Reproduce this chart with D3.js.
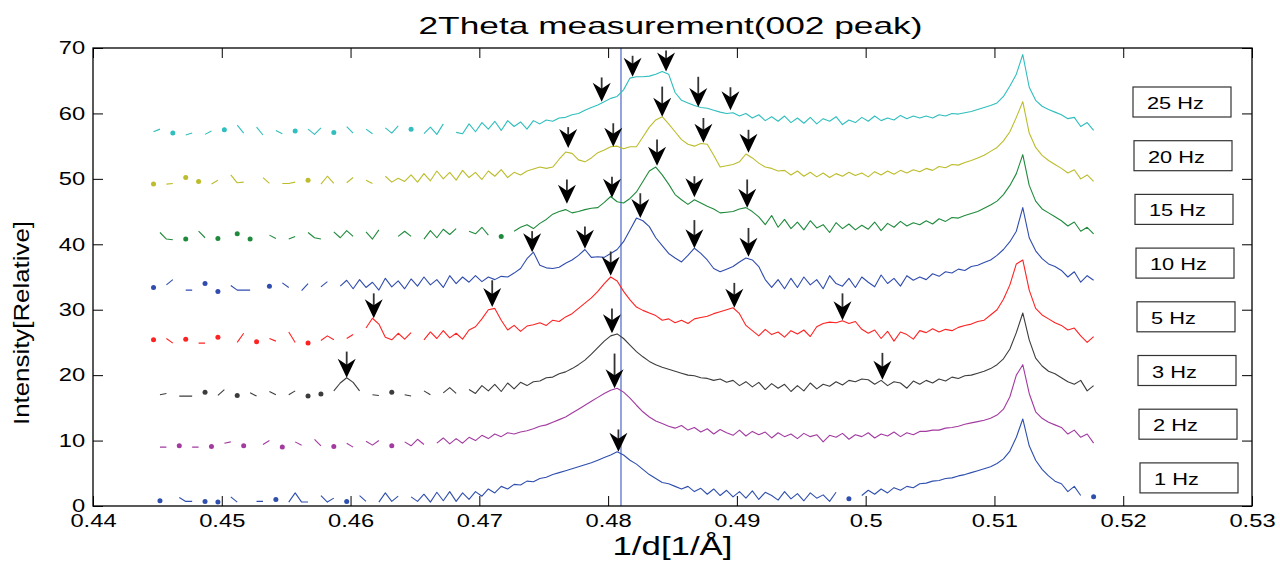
<!DOCTYPE html>
<html>
<head>
<meta charset="utf-8">
<script src="https://cdn.jsdelivr.net/npm/d3@7"></script>
<style>
  body { margin: 0; background: #fff; }
  svg { display: block; font-family: "Liberation Sans", Arial, sans-serif; }
</style>
</head>
<body>
<div id="chart"></div>
<script>
// ---- data ----
// every trace is sampled on the same 1/d grid, null = no point drawn
const xStart = 0.4447;
const xStep = 0.0005;

const freqLabels = ['1 Hz', '2 Hz', '3 Hz', '5 Hz', '10 Hz', '15 Hz', '20 Hz', '25 Hz'];

const hz1 = [
  null,0.8,null,null,1.3,0.7,0.7,null,0.7,null,
  0.6,null,1.4,0.6,null,null,0.7,0.7,null,1.0,
  null,0.6,2.0,0.6,0.6,null,1.6,0.6,1.2,null,
  0.7,null,1.6,0.7,null,0.6,2.0,0.7,1.5,null,
  1.4,0.7,1.8,0.6,2.1,0.8,2.2,0.7,2.0,1.0,
  2.2,1.5,2.6,2.0,3.0,2.6,3.3,3.2,3.8,3.7,
  4.2,4.4,4.8,5.1,5.4,5.7,6.0,6.3,6.6,7.0,
  7.4,7.8,8.3,7.8,7.0,6.4,5.6,4.8,4.2,3.6,
  3.4,3.0,2.6,3.0,2.2,2.7,1.8,2.6,1.6,2.4,
  1.4,2.2,1.2,2.3,1.0,2.1,1.6,0.9,2.2,1.1,
  1.9,0.8,2.0,1.2,1.7,0.7,2.1,null,1.1,null,
  1.6,2.4,1.8,2.6,2.0,2.8,2.4,3.0,2.8,3.4,
  3.5,3.8,3.9,4.2,4.3,4.6,4.8,5.1,5.4,5.7,
  6.0,6.5,7.2,8.4,10.5,13.3,9.2,7.0,5.6,4.6,
  3.8,3.4,2.2,3.0,1.6,null,1.4
];
const hz2 = [
  null,9.0,9.0,null,9.2,null,9.0,9.0,null,9.1,
  null,9.6,9.8,null,9.2,null,null,9.4,10.0,null,
  9.0,null,9.8,9.3,null,10.2,9.2,null,9.1,null,
  9.6,9.0,null,9.9,9.3,10.0,null,9.2,null,9.8,
  9.2,10.2,9.4,null,9.6,10.4,9.5,10.3,9.6,10.5,
  10.0,10.8,10.3,11.0,10.6,11.2,11.0,11.3,11.5,11.8,
  12.2,12.4,12.8,13.2,13.6,14.2,14.8,15.4,16.0,16.6,
  17.2,17.7,18.0,17.4,16.5,15.4,14.4,13.6,13.0,12.6,
  12.2,11.9,12.3,11.6,12.0,11.3,11.8,11.0,11.7,11.2,
  10.8,11.6,10.7,11.4,10.9,11.3,10.4,11.2,10.6,11.0,
  10.3,11.1,10.6,10.9,9.8,10.8,10.5,11.1,10.2,10.9,
  10.6,11.2,10.4,11.0,10.7,11.3,10.6,11.2,10.9,11.4,
  11.4,11.6,11.6,11.9,12.0,12.2,12.5,12.7,12.9,13.1,
  13.4,13.9,14.8,16.7,20.0,21.6,17.2,14.4,13.4,12.8,
  12.4,12.0,11.0,11.6,10.5,11.0,9.6
];
const hz3 = [
  null,17.0,17.2,null,16.8,16.8,16.8,null,17.4,null,
  16.9,17.8,null,16.9,null,17.3,16.8,null,17.5,17.0,
  null,17.0,17.6,null,16.8,null,17.1,null,17.6,18.8,
  19.6,18.9,17.6,null,17.0,16.9,null,17.4,null,17.0,
  16.8,null,17.6,17.0,null,17.3,18.1,17.2,null,17.8,
  17.2,18.4,17.6,18.6,17.5,18.8,17.9,18.9,18.4,19.0,
  19.1,19.6,19.7,20.2,20.5,21.0,21.6,22.3,23.2,24.2,
  25.2,26.0,26.3,25.6,24.6,23.6,22.8,22.1,21.6,21.2,
  20.9,20.6,20.3,20.0,19.9,19.6,19.5,19.2,19.4,18.9,
  19.2,18.4,19.0,18.2,18.9,17.8,18.7,18.0,18.6,17.5,
  18.4,17.6,18.8,17.9,18.6,18.3,19.0,18.5,19.2,19.0,
  19.4,19.3,18.6,19.2,18.4,19.0,18.8,18.0,19.1,18.6,
  19.2,18.8,19.4,19.1,19.7,19.5,19.9,20.0,20.3,20.6,
  21.0,21.6,22.5,24.0,26.5,29.5,25.4,22.6,21.4,20.6,
  20.2,19.6,19.0,18.6,19.2,17.6,18.4
];
const hz5 = [
  25.4,null,25.6,24.9,null,25.5,null,24.9,24.9,null,
  25.8,null,null,25.0,26.4,null,25.1,null,25.6,25.2,
  null,26.6,25.0,null,24.9,null,25.3,26.0,25.4,null,
  25.6,26.2,null,27.2,28.7,27.8,25.8,25.4,26.4,25.5,
  26.5,null,25.4,26.6,25.6,26.8,25.7,26.4,25.5,26.9,
  27.4,28.6,30.0,30.2,28.4,26.9,27.6,26.7,27.5,27.7,
  28.0,27.6,28.4,28.2,28.9,29.4,30.2,31.0,31.8,32.8,
  34.0,35.0,34.4,32.8,31.5,30.4,29.9,29.5,29.1,28.4,
  28.6,28.0,28.4,27.9,28.6,28.8,29.0,29.4,29.7,30.0,
  30.3,29.4,27.6,26.8,26.0,27.0,26.2,26.6,25.8,26.8,
  26.3,26.9,25.9,27.4,27.9,28.1,28.0,28.3,27.9,28.2,
  27.0,26.4,26.9,25.6,26.7,25.2,26.6,26.2,25.5,26.8,
  26.5,27.1,26.6,27.0,26.8,27.3,27.6,27.8,28.2,28.4,
  29.2,30.0,31.6,33.8,37.0,37.6,33.0,30.2,29.2,28.6,
  28.0,27.6,26.9,27.2,26.0,25.0,25.9
];
const hz10 = [
  33.4,null,33.8,34.6,null,33.0,33.0,null,34.0,null,
  32.8,null,33.7,33.0,33.0,33.0,null,null,33.6,null,
  34.1,33.4,null,32.9,34.0,null,33.5,34.3,null,33.6,
  34.5,33.2,34.6,33.4,34.2,33.0,34.8,33.5,34.4,33.2,
  34.7,33.6,35.0,33.8,34.6,33.4,35.2,34.0,35.0,34.2,
  35.2,34.3,35.0,34.6,35.1,35.0,35.6,36.3,37.8,38.8,
  36.8,36.4,36.3,36.5,37.1,37.6,38.3,39.2,38.0,38.1,
  38.0,38.6,39.2,40.4,42.2,44.0,43.6,42.7,41.0,39.8,
  38.6,37.9,37.3,38.3,39.4,38.6,37.6,36.3,35.8,36.2,
  36.6,37.3,37.9,37.6,36.6,34.6,33.4,34.6,33.2,34.8,
  33.4,35.0,33.8,34.6,33.2,35.2,34.0,33.6,34.8,33.4,
  35.0,34.2,33.5,35.3,34.0,34.8,33.6,35.2,34.5,35.0,
  34.6,35.5,35.1,35.8,35.6,36.2,36.0,36.6,36.8,37.2,
  37.6,38.3,39.2,40.4,42.0,45.6,41.0,39.0,37.8,37.0,
  36.6,36.0,35.0,35.8,34.2,35.2,34.5
];
const hz15 = [
  null,41.8,40.8,40.7,null,40.8,null,42.0,41.0,null,
  40.9,null,null,41.6,null,40.8,null,null,41.4,40.9,
  null,40.8,41.2,null,41.8,41.0,40.8,null,41.9,41.0,
  42.1,41.2,null,41.9,40.8,42.2,null,null,41.2,42.0,
  41.2,null,40.8,42.1,41.0,42.3,41.5,42.4,null,42.0,
  41.6,42.6,41.4,null,41.2,null,42.0,42.6,43.0,42.4,
  43.2,43.8,44.6,45.0,45.3,44.8,45.0,45.3,45.5,45.6,
  46.4,47.3,46.5,46.3,47.0,48.0,49.6,51.2,51.8,50.6,
  49.2,47.6,46.8,46.1,46.8,46.3,45.8,45.4,44.8,44.9,
  45.0,45.4,45.6,45.0,44.2,43.0,44.4,42.6,43.8,42.4,
  43.4,42.2,43.6,42.5,43.0,41.8,43.3,42.4,43.1,42.2,
  42.9,42.3,43.4,42.1,43.2,42.6,43.5,42.8,43.3,43.0,
  43.6,43.1,43.9,43.5,44.1,44.0,44.4,44.7,45.0,45.5,
  46.0,46.6,47.6,49.0,50.8,53.7,49.0,46.6,45.4,44.8,
  44.2,43.6,42.8,43.4,42.0,42.6,41.6
];
const hz20 = [
  49.2,null,49.2,49.3,null,50.2,null,49.6,null,49.2,
  49.8,null,50.6,49.4,49.5,null,null,50.2,49.3,null,
  49.3,49.3,49.5,null,49.8,null,49.2,50.4,49.3,null,
  49.4,50.2,null,49.8,49.3,null,50.4,49.5,50.1,49.6,
  50.6,49.5,50.8,49.7,51.2,50.0,51.0,49.8,51.3,50.2,
  51.0,49.9,51.2,50.4,51.4,50.2,51.0,50.6,51.2,51.5,
  51.8,51.6,51.8,53.0,54.1,53.9,52.9,52.6,53.2,54.0,
  54.4,54.9,55.0,54.6,54.9,54.9,56.4,57.9,59.0,59.5,
  58.4,57.2,56.0,55.3,55.0,55.4,55.3,53.6,51.8,52.0,
  52.2,52.6,53.8,53.2,52.4,51.8,51.6,51.2,51.3,50.6,
  51.2,50.4,51.0,50.3,50.9,50.2,50.8,50.4,51.0,50.5,
  50.9,50.3,51.1,50.6,51.2,50.7,51.3,50.9,51.4,51.1,
  51.6,51.3,51.9,51.7,52.2,52.1,52.5,52.8,53.2,53.6,
  54.2,54.8,55.8,57.2,59.4,61.8,57.0,54.8,53.6,52.8,
  52.2,51.6,50.9,51.4,50.0,50.6,49.6
];
const hz25 = [
  57.2,57.6,null,57.0,null,56.7,57.0,null,56.8,57.3,
  null,57.5,null,58.2,57.0,null,57.9,56.7,null,57.4,
  56.9,null,57.3,null,57.6,56.8,57.8,null,57.1,null,
  58.0,57.0,null,57.6,56.9,null,57.8,57.0,58.1,null,
  57.6,null,56.9,57.9,56.8,58.4,null,57.1,56.9,58.4,
  57.2,58.6,57.6,58.8,57.4,58.9,58.0,58.7,57.6,58.9,
  58.4,59.0,58.8,59.3,59.4,59.8,60.0,60.5,60.9,61.3,
  61.8,62.3,62.6,63.6,65.4,65.6,65.6,65.7,66.0,66.4,
  66.0,63.2,62.0,61.6,61.2,60.9,60.8,60.5,60.2,60.0,
  60.1,59.6,60.0,59.3,59.8,58.9,59.5,58.8,59.6,58.6,
  59.3,58.5,59.4,58.4,59.2,58.8,59.5,58.3,59.0,58.6,
  59.4,58.8,59.6,58.9,59.3,59.0,59.7,59.2,59.6,59.3,
  59.6,59.3,59.8,59.6,60.0,59.9,60.1,60.3,60.6,60.9,
  61.2,61.6,62.6,64.2,66.0,69.0,64.0,62.0,61.1,60.6,
  60.2,59.8,59.2,59.4,58.0,58.6,57.4
];

const xTicks = [0.44, 0.45, 0.46, 0.47, 0.48, 0.49, 0.50, 0.51, 0.52, 0.53];
const yTicks = [0, 10, 20, 30, 40, 50, 60, 70];

// reference position of the 002 peak (blue vertical line)
const markerX = 0.481;

// peak arrows: [1/d, tip intensity, tail intensity]
const arrows = [
  [0.4795, 61.8, 65.5], [0.4819, 65.6, 68.4], [0.4845, 66.4, 69.2], [0.4870, 61.0, 65.6], [0.4895, 60.5, 64.0],
  [0.4769, 54.7, 57.6], [0.4804, 54.9, 58.5], [0.4842, 59.5, 64.1], [0.4874, 55.5, 59.3], [0.4909, 54.0, 57.5],
  [0.4768, 46.2, 49.9], [0.4803, 47.1, 50.2], [0.4838, 52.0, 56.0], [0.4867, 47.2, 50.2], [0.4908, 45.6, 49.9],
  [0.4741, 38.8, 41.7], [0.4782, 39.3, 42.7], [0.4825, 44.0, 47.8], [0.4867, 39.4, 43.7], [0.4909, 38.1, 42.5],
  [0.4618, 28.7, 32.5], [0.4710, 30.4, 34.5], [0.4802, 35.2, 38.9], [0.4898, 30.3, 34.1], [0.4982, 28.4, 32.5],
  [0.4597, 19.6, 23.6], [0.4803, 26.4, 30.2], [0.5013, 19.3, 23.4],
  [0.4805, 18.0, 23.3],
  [0.4808, 8.3, 11.7]
];

const seriesValues = [hz1, hz2, hz3, hz5, hz10, hz15, hz20, hz25];

// ---- styles ----
const colors = ['#2f4fae', '#a23aa0', '#3c3c3c', '#ff2222', '#2f4cae', '#1f8a3c', '#bcbc2c', '#30bebe'];
const sx = 1.32; // the figure is stretched horizontally, text included

// ---- canvas ----
const svgWidth = 1280;
const svgHeight = 561;
const margin = {top: 48, right: 28, bottom: 55, left: 93};
const width = svgWidth - margin.left - margin.right;
const height = svgHeight - margin.top - margin.bottom;

const svg = d3.select('#chart').append('svg')
  .attr('width', svgWidth).attr('height', svgHeight);

svg.append('rect').attr('width', svgWidth).attr('height', svgHeight).attr('fill', '#fff');

const chartGroup = svg.append('g').attr('transform', `translate(${margin.left}, ${margin.top})`);

const xScale = d3.scaleLinear().domain([0.44, 0.53]).range([0, width]);
const yScale = d3.scaleLinear().domain([0, 70]).range([height, 0]);

// ---- axes (ticks point inward on all four sides) ----
const fmtX = d => String(+d.toFixed(2));

const xAxis = chartGroup.append('g')
  .attr('transform', `translate(0, ${height})`)
  .call(d3.axisBottom(xScale).tickValues(xTicks).tickFormat(fmtX).tickSize(-10).tickSizeOuter(0).tickPadding(8));

const yAxis = chartGroup.append('g')
  .call(d3.axisLeft(yScale).tickValues(yTicks).tickSize(-10).tickSizeOuter(0).tickPadding(6));

chartGroup.append('g')
  .call(d3.axisTop(xScale).tickValues(xTicks).tickFormat('').tickSize(-10).tickSizeOuter(0));

chartGroup.append('g')
  .attr('transform', `translate(${width}, 0)`)
  .call(d3.axisRight(yScale).tickValues(yTicks).tickFormat('').tickSize(-10).tickSizeOuter(0));

chartGroup.selectAll('.domain').remove();
chartGroup.selectAll('.tick line').attr('stroke', '#000').attr('stroke-width', 1);

[xAxis, yAxis].forEach(ax => ax.selectAll('text')
  .attr('font-size', 18)
  .attr('font-family', '"Liberation Sans", Arial, sans-serif')
  .attr('fill', '#000')
  .attr('transform', `scale(${sx},1)`));

// ---- peak reference line ----
chartGroup.append('line')
  .attr('x1', xScale(markerX)).attr('x2', xScale(markerX))
  .attr('y1', 0).attr('y2', height)
  .attr('stroke', '#3a58c0').attr('stroke-width', 1.1);

// ---- traces ----
const line = d3.line()
  .defined(d => d.y !== null)
  .x(d => xScale(d.x))
  .y(d => yScale(d.y));

seriesValues.forEach((vals, i) => {
  const pts = vals.map((v, k) => ({x: xStart + k * xStep, y: v}));

  chartGroup.append('path')
    .datum(pts)
    .attr('fill', 'none')
    .attr('stroke', colors[i])
    .attr('stroke-width', 1.1)
    .attr('stroke-linejoin', 'round')
    .attr('d', line);

  // points with no neighbour show up as single dots
  const lonely = pts.filter((d, k) => d.y !== null
    && (k === 0 || pts[k - 1].y === null)
    && (k === pts.length - 1 || pts[k + 1].y === null));

  chartGroup.selectAll(null).data(lonely).enter()
    .append('circle')
    .attr('cx', d => xScale(d.x))
    .attr('cy', d => yScale(d.y))
    .attr('r', 2.5)
    .attr('fill', colors[i]);
});

// ---- arrows ----
const headPath = 'M0,0 L-9,-19 L0,-13 L9,-19 Z';

const arrowGroups = chartGroup.selectAll('.arrow').data(arrows).enter()
  .append('g')
  .attr('class', 'arrow')
  .attr('transform', d => `translate(${xScale(d[0])}, ${yScale(d[1])})`);

arrowGroups.append('line')
  .attr('x1', 0).attr('x2', 0)
  .attr('y1', d => Math.min(yScale(d[2]) - yScale(d[1]), -21))
  .attr('y2', -10)
  .attr('stroke', '#333').attr('stroke-width', 1.8);

arrowGroups.append('path')
  .attr('d', headPath)
  .attr('fill', '#000');

// ---- frame ----
chartGroup.append('rect')
  .attr('width', width).attr('height', height)
  .attr('fill', 'none').attr('stroke', '#000').attr('stroke-width', 1.3);

// ---- legend boxes ----
const legend = chartGroup.selectAll('.legend').data(freqLabels.slice().reverse()).enter()
  .append('g')
  .attr('class', 'legend')
  .attr('transform', (d, k) => `translate(${1040 + k}, ${39 + k * 53.7})`);

legend.append('rect')
  .attr('width', 98).attr('height', 30)
  .attr('fill', '#fff').attr('stroke', '#333').attr('stroke-width', 1.2);

legend.append('text')
  .attr('transform', `translate(14, 22) scale(${sx},1)`)
  .attr('font-size', 16.5)
  .attr('fill', '#000')
  .text(d => d);

// ---- titles ----
svg.append('text')
  .attr('x', margin.left + width / 2 - 2).attr('y', 34)
  .attr('text-anchor', 'middle')
  .attr('font-size', 24)
  .attr('textLength', 504).attr('lengthAdjust', 'spacingAndGlyphs')
  .text('2Theta measurement(002 peak)');

svg.append('text')
  .attr('x', margin.left + width / 2).attr('y', 555)
  .attr('text-anchor', 'middle')
  .attr('font-size', 26)
  .attr('textLength', 120).attr('lengthAdjust', 'spacingAndGlyphs')
  .text('1/d[1/Å]');

svg.append('text')
  .attr('transform', `translate(29, ${margin.top + height / 2 + 46}) rotate(-90)`)
  .attr('text-anchor', 'middle')
  .attr('font-size', 22)
  .attr('textLength', 204).attr('lengthAdjust', 'spacingAndGlyphs')
  .text('Intensity[Relative]');
</script>
</body>
</html>
